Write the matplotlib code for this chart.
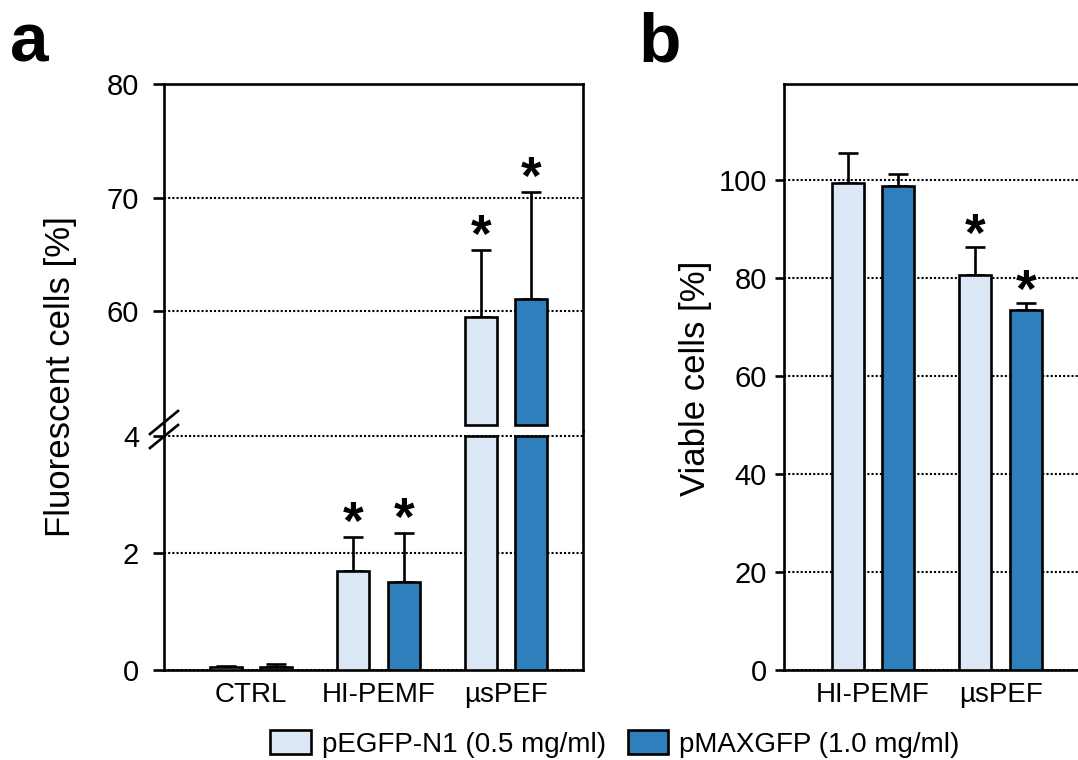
import numpy as np
import matplotlib
matplotlib.use("Agg")
import matplotlib.pyplot as plt
from matplotlib.patches import Patch
from matplotlib.lines import Line2D

plt.rcParams['font.family'] = ['Liberation Sans', 'DejaVu Sans']

# data
groups_a = ['CTRL', 'HI-PEMF', 'µsPEF']
egfp_a = [0.05, 1.69, 59.5]
egfp_a_err = [0.02, 0.59, 5.85]
max_a = [0.05, 1.50, 61.1]
max_a_err = [0.05, 0.84, 9.35]
sig_egfp_a = [False, True, True]
sig_max_a = [False, True, True]

groups_b = ['HI-PEMF', 'µsPEF']
egfp_b = [99.4, 80.5]
egfp_b_err = [6.1, 5.8]
max_b = [98.7, 73.5]
max_b_err = [2.4, 1.4]
sig_egfp_b = [False, True]
sig_max_b = [False, True]

labels = ['pEGFP-N1 (0.5 mg/ml)', 'pMAXGFP (1.0 mg/ml)']
c_light = '#dce8f5'
c_dark = '#2f7fbd'

W, H = 1078, 760
fig = plt.figure(figsize=(W / 100, H / 100), dpi=100)

off = 0.198
bw = 0.25
lw = 1.9


def px(x, y, w, h):
    return [x / W, 1 - (y + h) / H, w / W, h / H]


def style(ax, ticks, length, pad):
    ax.set_yticks(ticks)
    ax.tick_params(axis='y', direction='out', length=length, width=lw, pad=pad, labelsize=21)
    ax.tick_params(axis='x', length=0, pad=9, labelsize=20)
    for s in ax.spines.values():
        s.set_linewidth(lw)
    ax.yaxis.grid(True, linestyle=(0, (1, 1)), color='black', lw=1.5)
    ax.set_axisbelow(True)


def star(ax, x, y, dy=-2):
    ax.annotate('*', xy=(x, y), xytext=(0, dy), textcoords='offset pixels',
                ha='center', va='baseline', fontsize=38, fontweight='bold')


def errs(ax, x, v, e):
    ax.errorbar(x, v, yerr=[[0], [e]], fmt='none', ecolor='black',
                elinewidth=lw, capsize=7, capthick=lw, zorder=2)


# ---- panel a : broken axis ----
ax_lo = fig.add_axes(px(164, 431, 419, 239))
ax_hi = fig.add_axes(px(164, 84, 419, 347))
ax_lo.set_ylim(0, 4.085)
ax_hi.set_ylim(49.43, 80)
for ax in (ax_lo, ax_hi):
    ax.set_xlim(-0.682, 2.604)
ax_lo.spines['top'].set_visible(False)
ax_hi.spines['bottom'].set_visible(False)
style(ax_lo, [0, 2, 4], 8, 10)
style(ax_hi, [60, 70, 80], 8, 10)
ax_hi.set_xticks([])
ax_lo.set_xticks(range(len(groups_a)))
ax_lo.set_xticklabels(groups_a)

xa = np.arange(len(groups_a))
for vals, es, sig, col, d in [(egfp_a, egfp_a_err, sig_egfp_a, c_light, -off),
                              (max_a, max_a_err, sig_max_a, c_dark, off)]:
    for i, (v, e, s) in enumerate(zip(vals, es, sig)):
        x = xa[i] + d
        ax_lo.bar(x, min(v, 4.0), bw, color=col, edgecolor='black', lw=lw, zorder=3)
        if v > 50:
            ax_hi.bar(x, v - 50, bw, bottom=50, color=col, edgecolor='black', lw=lw, zorder=3)
            target = ax_hi
        else:
            target = ax_lo
        errs(target, x, v, e)
        if s:
            star(target, x, v + e)

# break marks on the left axis
for y0 in (434, 448):
    fig.add_artist(Line2D([150 / W, 178 / W], [1 - y0 / H, 1 - (y0 - 23) / H],
                          color='black', lw=lw))

fig.text(61 / W, 1 - 377 / H, 'Fluorescent cells [%]', rotation=90,
         ha='center', va='center', fontsize=25)
fig.text(10 / W, 1 - 62 / H, 'a', fontsize=50, fontweight='bold', va='baseline')

# ---- panel b ----
ax_b = fig.add_axes(px(784, 84, 419, 586))
ax_b.set_ylim(0, 119.5)
ax_b.set_xlim(-0.698, 2.588)
style(ax_b, [0, 20, 40, 60, 80, 100], 6.5, 6)
ax_b.set_xticks(range(len(groups_b)))
ax_b.set_xticklabels(groups_b)

xb = np.arange(len(groups_b))
for vals, es, sig, col, d in [(egfp_b, egfp_b_err, sig_egfp_b, c_light, -off),
                              (max_b, max_b_err, sig_max_b, c_dark, off)]:
    for i, (v, e, s) in enumerate(zip(vals, es, sig)):
        x = xb[i] + d
        ax_b.bar(x, v, bw, color=col, edgecolor='black', lw=lw, zorder=3)
        errs(ax_b, x, v, e)
        if s:
            star(ax_b, x, v + e, dy=-4)

fig.text(696 / W, 1 - 378 / H, 'Viable cells [%]', rotation=90,
         ha='center', va='center', fontsize=25)
fig.text(638 / W, 1 - 62 / H, 'b', fontsize=50, fontweight='bold', va='baseline')

# ---- legend ----
handles = [Patch(facecolor=c_light, edgecolor='black', lw=lw),
           Patch(facecolor=c_dark, edgecolor='black', lw=lw)]
fig.legend(handles, labels, loc='center', bbox_to_anchor=(615 / W, 1 - 744 / H),
           ncol=2, frameon=False, fontsize=20, handlelength=1.45, handleheight=0.9,
           handletextpad=0.4, columnspacing=0.8)

fig.savefig('out.png', dpi=100)
